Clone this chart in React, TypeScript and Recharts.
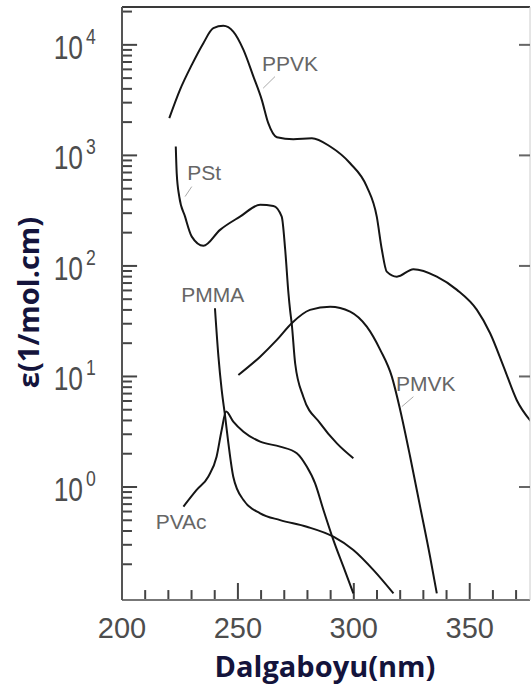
import {
  LineChart,
  Line,
  XAxis,
  YAxis,
  ReferenceLine,
  ReferenceDot,
} from 'recharts';

// wavelength (nm) and epsilon (1/mol.cm), one pair of arrays per polymer
const ppvkNm = [220.4, 225.0, 230.1, 235.1, 239.4, 243.7, 248.0, 252.4, 256.7, 260.3, 263.1, 266.8, 273.9, 281.9, 289.8, 298.4, 305.6, 309.9, 312.1, 314.2, 318.6, 325.7, 335.8, 344.5, 353.1, 358.8, 364.6, 370.3, 376.5];
const ppvkEps = [2170, 3915, 6590, 10360, 14150, 14860, 13190, 9010, 5160, 3180, 1955, 1462, 1403, 1431, 1203, 849, 522, 279, 140, 88.8, 80, 93.3, 80, 60.7, 40, 24.6, 12.3, 6.1, 3.9];

const pstNm = [223.2, 223.6, 224.7, 227.2, 230.1, 235.1, 242.3, 250.9, 259.6, 265.3, 268.9, 270.4, 271.8, 272.5, 273.2, 274.7, 278.2, 285.5, 292.7, 299.8];
const pstEps = [1203, 690, 424, 279, 184, 152, 212, 279, 357, 349, 279, 140, 56.6, 40, 30.3, 13.1, 6.56, 3.77, 2.48, 1.82];

const pmmaNm = [240.1, 241.6, 243.0, 244.5, 245.9, 248.0, 252.4, 259.6, 268.2, 279.7, 291.2, 299.8, 308.5, 317.1];
const pmmaEps = [41.4, 15.1, 7.55, 4.33, 2.48, 1.24, 0.762, 0.578, 0.502, 0.437, 0.355, 0.269, 0.177, 0.109];

const pvacNm = [226.5, 232.2, 237.2, 240.8, 243.0, 244.9, 248.0, 252.4, 259.6, 268.2, 275.4, 279.7, 283.3, 286.9, 291.2, 295.5, 299.8];
const pvacEps = [0.664, 0.94, 1.24, 1.88, 3.28, 4.81, 3.9, 3.16, 2.57, 2.32, 2.02, 1.53, 1.08, 0.62, 0.331, 0.19, 0.109];

const pmvkNm = [250.2, 259.6, 266.8, 273.2, 281.1, 289.8, 298.4, 305.6, 311.4, 316.4, 320.0, 324.3, 328.6, 332.9, 335.8];
const pmvkEps = [10.3, 15.1, 21.4, 30.3, 40, 42.8, 38.6, 28.2, 17.4, 9.96, 4.98, 1.88, 0.664, 0.234, 0.109];

// axes
const xDomain = [200, 376];
const xTicks = [200, 210, 220, 230, 240, 250, 260, 270, 280, 290, 300, 310, 320, 330, 340, 350, 360, 370];
const xMajor = [200, 250, 300, 350];
const yDomain = [0.095, 22000];
const yMajor = [1, 10, 100, 1000, 10000];
const yExponents = ['0', '1', '2', '3', '4'];
const yTicksLeft = [
  0.2, 0.3, 0.4, 0.5, 0.6, 0.7, 0.8, 0.9,
  1, 2, 3, 4, 5, 6, 7, 8, 9,
  10, 20, 30, 40, 50, 60, 70, 80, 90,
  100, 200, 300, 400, 500, 600, 700, 800, 900,
  1000, 2000, 3000, 4000, 5000, 6000, 7000, 8000, 9000,
  10000, 20000,
];

// inward tick mark lengths, in axis units (nm along x, decades along y)
const leftTickMajorNm = 6.5;
const leftTickMinorNm = 4.3;
const bottomTickMajorDec = 0.154;
const bottomTickMinorDec = 0.09;

// curve names, placed at (nm, epsilon)
const curveLabels = ['PPVK', 'PSt', 'PMMA', 'PVAc', 'PMVK'];
const labelNm = [272.5, 235.4, 239.1, 225.5, 331.0];
const labelEps = [6730, 701, 54.7, 0.488, 8.65];

// small pointer strokes from name to curve
const leaderFrom = [{ x: 266.0, y: 5164 }, { x: 230.1, y: 522 }, { x: 325.7, y: 6.56 }];
const leaderTo = [{ x: 260.9, y: 4055 }, { x: 227.2, y: 424 }, { x: 320.7, y: 5.33 }];

const toPoints = (nm: number[], eps: number[]) => nm.map((x, i) => ({ x, y: eps[i] }));

const series = [
  { name: 'PPVK', data: toPoints(ppvkNm, ppvkEps) },
  { name: 'PSt', data: toPoints(pstNm, pstEps) },
  { name: 'PMMA', data: toPoints(pmmaNm, pmmaEps) },
  { name: 'PVAc', data: toPoints(pvacNm, pvacEps) },
  { name: 'PMVK', data: toPoints(pmvkNm, pmvkEps) },
];

// tick marks inside the frame, each a two-point stroke in axis units
const leftTickMarks = yTicksLeft.map((v) => [
  { x: xDomain[0], y: v },
  { x: xDomain[0] + (yMajor.includes(v) ? leftTickMajorNm : leftTickMinorNm), y: v },
]);
const bottomTickMarks = xTicks.map((v) => [
  { x: v, y: yDomain[0] },
  { x: v, y: yDomain[0] * Math.pow(10, xMajor.includes(v) ? bottomTickMajorDec : bottomTickMinorDec) },
]);

const tickGrey = '#4d4d4d';

const renderLeftTick = (props: any) => {
  const x = Number(props.x);
  const y = Number(props.y);
  const idx = yMajor.indexOf(props.payload.value);
  if (idx < 0) return <g key={`lt-${props.index}`} />;
  return (
    <g key={`lt-${props.index}`}>
      <text transform={`translate(${x - 39}, ${y + 14}) scale(0.8, 1)`} textAnchor="end" fontSize={33} fill={tickGrey}>
        10
      </text>
      <text transform={`translate(${x - 36}, ${y - 1}) scale(0.8, 1)`} textAnchor="start" fontSize={22} fill={tickGrey}>
        {yExponents[idx]}
      </text>
    </g>
  );
};

const renderRightTick = (props: any) => {
  const x = Number(props.x);
  const y = Number(props.y);
  return <rect key={`rt-${props.index}`} x={x - 11} y={y - 1} width={11} height={2} fill="#666" />;
};

const renderBottomTick = (props: any) => {
  const x = Number(props.x);
  const y = Number(props.y);
  if (!xMajor.includes(props.payload.value)) return <g key={`bt-${props.index}`} />;
  return (
    <text key={`bt-${props.index}`} x={x} y={y + 38} textAnchor="middle" fontSize={29} fill={tickGrey}>
      {props.payload.value}
    </text>
  );
};

const titleColor = '#14143c';

const yTitle = (p: any) => {
  const vb = p.viewBox;
  const cx = vb.x + 27;
  const cy = vb.y + vb.height / 2 - 1;
  return (
    <text
      x={cx}
      y={cy}
      transform={`rotate(-90, ${cx}, ${cy})`}
      textAnchor="middle"
      dominantBaseline="central"
      fontFamily="'Open Sans', sans-serif"
      fontWeight="bold"
      fontSize={29}
      fill={titleColor}
    >
      ε(1/mol.cm)
    </text>
  );
};

const xTitle = (p: any) => {
  const vb = p.viewBox;
  return (
    <text
      x={vb.x + 203}
      y={vb.y + 77}
      textAnchor="middle"
      fontFamily="'Open Sans', sans-serif"
      fontWeight="bold"
      fontSize={29}
      fill={titleColor}
    >
      Dalgaboyu(nm)
    </text>
  );
};

export default function App() {
  return (
    <div
      style={{
        position: 'absolute',
        left: 0,
        top: 0,
        width: 531,
        height: 689,
        overflow: 'hidden',
        background: '#fff',
        fontFamily: "'Liberation Sans', Arial, sans-serif",
      }}
    >
      <LineChart width={531} height={689} margin={{ top: 7, right: 0, bottom: 0, left: 0 }}>
        <XAxis
          dataKey="x"
          type="number"
          domain={xDomain}
          ticks={xTicks}
          interval={0}
          allowDataOverflow
          height={89}
          tickSize={0}
          tickMargin={0}
          tickLine={false}
          tick={renderBottomTick}
          axisLine={{ stroke: '#777', strokeWidth: 2 }}
          label={xTitle}
        />
        <YAxis
          yAxisId="left"
          dataKey="y"
          type="number"
          scale="log"
          domain={yDomain}
          ticks={yTicksLeft}
          interval={0}
          allowDataOverflow
          width={122}
          tickSize={0}
          tickMargin={0}
          tickLine={false}
          tick={renderLeftTick}
          axisLine={{ stroke: '#555', strokeWidth: 2 }}
          label={yTitle}
        />
        <YAxis
          yAxisId="right"
          orientation="right"
          type="number"
          scale="log"
          domain={yDomain}
          ticks={yMajor}
          interval={0}
          allowDataOverflow
          width={1}
          tickSize={0}
          tickMargin={0}
          tickLine={false}
          tick={renderRightTick}
          axisLine={{ stroke: '#ccc', strokeWidth: 1 }}
        />
        <ReferenceLine yAxisId="left" y={yDomain[1]} stroke="#3a3a3a" strokeWidth={2} />
        {leftTickMarks.map((seg, i) => (
          <Line
            key={`ytick-${i}`}
            yAxisId="left"
            type="linear"
            data={seg}
            dataKey="y"
            stroke="#444"
            strokeWidth={2}
            dot={false}
            activeDot={false}
            legendType="none"
            isAnimationActive={false}
          />
        ))}
        {bottomTickMarks.map((seg, i) => (
          <Line
            key={`xtick-${i}`}
            yAxisId="left"
            type="linear"
            data={seg}
            dataKey="y"
            stroke="#444"
            strokeWidth={2}
            dot={false}
            activeDot={false}
            legendType="none"
            isAnimationActive={false}
          />
        ))}
        {series.map((s) => (
          <Line
            key={s.name}
            yAxisId="left"
            type="monotone"
            data={s.data}
            dataKey="y"
            name={s.name}
            stroke="#151515"
            strokeWidth={2}
            dot={false}
            isAnimationActive={false}
          />
        ))}
        {leaderFrom.map((from, i) => (
          <ReferenceLine
            key={`leader-${i}`}
            yAxisId="left"
            segment={[from, leaderTo[i]]}
            stroke="#aaa"
            strokeWidth={1}
          />
        ))}
        {curveLabels.map((name, i) => (
          <ReferenceDot
            key={name}
            yAxisId="left"
            x={labelNm[i]}
            y={labelEps[i]}
            r={0}
            fill="none"
            stroke="none"
            label={{ value: name, position: 'center', fill: '#666', fontSize: 21 }}
          />
        ))}
      </LineChart>
    </div>
  );
}
